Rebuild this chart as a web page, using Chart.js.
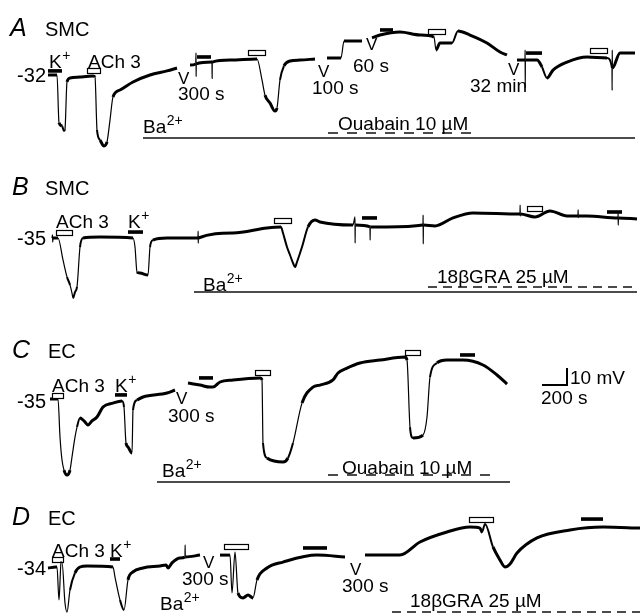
<!DOCTYPE html>
<html><head><meta charset="utf-8">
<script src="https://cdn.jsdelivr.net/npm/chart.js@4.4.0/dist/chart.umd.min.js"></script>
<style>html,body{margin:0;padding:0;background:#fff;}canvas{display:block;}</style>
</head><body>
<canvas id="c" width="640" height="614"></canvas>
<script>
// ---------- DATA (time in s, membrane potential in mV) ----------
// Panel A (SMC, ouabain)
const timeA = [384,456,472,496,512,520,536,560,640,744,760,776,800,832,856,880,904,960,1064,1200,1336,1416,1460,
  1520,1566,1568,1569,1570,1696,1697,1698,1840,2056,2096,2120,2160,2200,2216,2240,2272,2320,2400,2520,2570,
  2616,2728,2752,2896,2940,
  2976,3040,3200,3360,3472,3488,3520,3616,3664,3760,3896,4000,4056,4100,
  4136,4200,4201,4202,4203,4296,4336,4376,4424,4536,4696,4856,4896,4897,4898,4899,4960,5080];
const mvA = [-32,-32,-60,-62,-65,-63.8,-36.1,-33.8,-33.2,-32.6,-33.2,-64.3,-70.2,-73.7,-71.4,-58.5,-44.9,-40.8,-36.1,-32,-29.6,-27.9,null,
  -26.1,-25.5,-19,-33,-25.5,-24.4,-34,-24.4,-23.2,-22.6,-34.9,-43.8,-48.5,-53.2,-51.4,-34.9,-26.7,-23.8,-23.2,-22.6,null,
  -22,-22,-12,-12,null,
  -10.2,-8.5,-6.7,-8.5,-9.7,-17.3,-13.2,-13.2,-6.1,-8.5,-13.2,-18.5,-20.2,null,
  -23.2,-23.2,-17.3,-39.6,-23.2,-23.2,-27.3,-33.8,-29.1,-24.4,-21.4,-22,-27.9,-41,-17.3,-27.9,-19.1,-19.1];
// Panel B (SMC, 18bGRA)
const timeB = [416,420,422,424,464,504,536,560,576,584,600,616,640,664,800,1064,1080,1096,1120,1184,1200,1224,1336,1584,1585,
  1586,1587,1864,2136,2248,2264,2296,2320,2344,2360,2376,2416,2464,2520,2560,2824,2840,2841,2842,2960,
  2961,2962,3096,3384,3385,3386,3387,3480,3624,3784,4160,4161,4162,4163,4280,4400,4536,4624,4625,4626,
  4627,4696,4944,4945,4946,4947,5096];
const mvB = [-35,-33.2,-37.4,-35,-35,-47.9,-57.9,-62.6,-67.4,-70.3,-66.8,-63.8,-40.3,-35,-34.4,-35,-40.3,-55,-55.6,-56.8,-40.3,-36.2,-35,-35,-31,
  -38,-35,-32.1,-29.1,-28.5,-32.1,-40.3,-45,-49.7,-52.1,-49.1,-40.3,-28.5,-24.4,-25.6,-27.4,-22.6,-38,-27.4,-28.5,
  -36.2,-28.5,-28.5,-27.4,-21.5,-38.5,-27.4,-27.9,-23.2,-20.3,-20.9,-15.6,-22,-20.9,-22.6,-19.1,-22,-22,-18.5,-23,
  -22,-22,-23.2,-20.3,-27.4,-23.2,-23.8];
// Panel C (EC, ouabain)
const timeC = [400,464,480,496,512,536,560,576,600,616,640,672,704,736,776,824,904,976,992,1008,1024,1056,1064,1096,1144,1336,1400,1450,
  1504,1600,1680,1704,1760,1864,2080,2096,2104,2136,2264,2304,2344,2416,2504,2560,2664,2704,2776,2880,
  3040,3240,3256,3280,3304,3384,3416,3440,3496,3576,3704,3864,3976,4056];
const mvC = [-35,-35,-57.4,-70.9,-76.8,-79.7,-76.8,-69.1,-57.4,-51.5,-46.2,-47.9,-50.3,-47.9,-45.6,-39.7,-37.4,-36.2,-39.7,-60.9,-63.2,-66.8,-41.5,-35.6,-33.8,-31.5,-29.7,null,
  -25.6,-26.8,-28,-28,-25,-23.8,-22.6,-23.8,-60.9,-69.7,-72.1,-69.7,-60.9,-37.4,-28,-26.8,-23.8,-19.7,-16.8,-13.8,
  -12.1,-10.3,-12.1,-51.5,-57.9,-56.2,-45.6,-22.1,-13.8,-12.1,-12.1,-15,-20.9,-26.2];
// Panel D (EC, 18bGRA)
const timeD = [384,448,456,472,488,496,520,536,560,600,640,696,904,920,960,992,1024,1064,1144,1280,1328,1344,1376,1440,1480,1481,1482,1600,1680,
  1760,1840,1856,1880,1904,1944,1984,2024,2056,2136,2264,2536,2760,2840,
  2920,3200,3360,3576,3760,3840,3856,3880,3944,4000,4040,4080,4136,4296,4560,4824,5120];
const mvD = [-34.6,-34,-34,-53.4,-31.6,-31.1,-55.2,-60.5,-47.5,-37.5,-34,-33.4,-34,-39.9,-53.4,-59.3,-41.6,-36.9,-34.6,-33.4,-32.8,-34.6,-31.6,-28.7,-28.1,-21,-28.1,-27,null,
  -27,-27,-49.3,-25.2,-49.3,-52.2,-50.5,-52.2,-41.6,-34.6,-31.1,-27,-28.1,null,
  -27,-27,-19.3,-13.4,-10.5,-11.1,-13.4,-8.7,-22.2,-29.9,-34,-32.2,-25.8,-16.9,-12.2,-10.5,-11.1];

// Drug application periods [start s, end s]
const openA = [[696,800],[1984,2120],[3424,3560],[4720,4856]];      // ACh (open bars)
const filledA = [[384,496],[1576,1688],[3040,3144],[4208,4336]];    // K+ (filled bars)
const openB = [[448,576],[2192,2328],[4216,4336]];
const filledB = [[1024,1144],[2896,3016],[4856,4976]];
const openC = [[416,504],[2040,2160],[3240,3360]];
const filledC = [[920,1016],[1592,1704],[3680,3800]];
const openD = [[416,504],[1792,1984],[3752,3944]];
const filledD = [[880,960],[2424,2616],[4648,4824]];
const bariumA = [1144,5080], bariumB = [1552,5096], bariumC = [1256,4080];
const drugA = [2624,3800], drugB = [3424,5096], drugC = [2624,3936], drugD = [3136,5120];
const restingLabels = ['-32','-35','-35','-34'];
const scaleBar = {seconds:200, mV:10};

// ---------- LAYOUT (placement only) ----------
const PX_PER_MV = 1.7, H = 614, T_MAX = 5120;
const panels = [
  {id:'yA', base:-32, row:75,  t:timeA, v:mvA, open:openA, filled:filledA,
   openLv:[-29.6,-18.5,-6.7,-17.3], filledLv:[-29.6,-21.4,-5.5,-19.1],
   ba:bariumA, baLv:-69.1, drug:drugA, drugLv:-66.1, dash:[10,9],
   labels:[['A',80,-9.1,'big'],['SMC',360,-9.1,'title'],[restingLabels[0],368,-32.6,'rest'],
     ['K^+',392,-27.9],['ACh 3',704,-27.9],['V',1424,-37.3,'v'],['300 s',1424,-46.7],
     ['V',2544,-33.2,'v'],['100 s',2496,-43.2],['V',2928,-17.3,'v'],['60 s',2824,-30.2],
     ['V',4064,-32,'v'],['32 min',3760,-42],['Ba^2+',1144,-66.1],['Ouabain 10 \u00b5M',2704,-64.4]]},
  {id:'yB', base:-35, row:238, t:timeB, v:mvB, open:openB, filled:filledB,
   openLv:[-31.5,-25,-17.4], filledLv:[-31.5,-23.2,-19.7],
   ba:bariumB, baLv:-66.8, drug:drugB, drugLv:-63.8, dash:[9,6],
   labels:[['B',96,-9.7,'big'],['SMC',360,-9.7,'title'],[restingLabels[1],368,-35.6,'rest'],
     ['ACh 3',448,-29.1],['K^+',1024,-29.1],['Ba^2+',1624,-66.2],['18\u03b2GRA 25 \u00b5M',3496,-61.5]]},
  {id:'yC', base:-35, row:399, t:timeC, v:mvC, open:openC, filled:filledC,
   openLv:[-33.2,-19.7,-7.4], filledLv:[-32.6,-22.6,-9.1],
   ba:bariumC, baLv:-83.8, drug:drugC, drugLv:-79.7, dash:[10,9],
   labels:[['C',96,-10.9,'big'],['EC',384,-10.9,'title'],[restingLabels[2],368,-36.8,'rest'],
     ['ACh 3',416,-30.9],['K^+',920,-30.9],['V',1408,-37.9,'v'],['300 s',1344,-48.5],
     ['Ba^2+',1296,-80.9],['Ouabain 10 \u00b5M',2736,-79.1],
     [scaleBar.mV+' mV',4560,-26.2],[scaleBar.seconds+' s',4328,-37.9]],
   scale:{t:4336, v:-26.8}},
  {id:'yD', base:-34, row:567, t:timeD, v:mvD, open:openD, filled:filledD,
   openLv:[-29.3,-22.2,-5.8], filledLv:[-29.3,-22.8,-5.8],
   ba:null, drug:drugD, drugLv:-60.5, dash:[9,6],
   labels:[['D',96,-9.3,'big'],['EC',384,-9.3,'title'],[restingLabels[3],368,-35.2,'rest'],
     ['ACh 3',416,-28.1],['K^+',880,-28.1],['V',1624,-34.6,'v'],['300 s',1456,-44.6],
     ['Ba^2+',1280,-59.3],['V',2800,-38.7,'v'],['300 s',2736,-48.7],['18\u03b2GRA 25 \u00b5M',3280,-57.5]]}
];

const FONT = '"Liberation Sans", Arial, Helvetica, sans-serif';
const datasets = [];
const scales = { x: {type:'linear', min:0, max:T_MAX, display:false} };
panels.forEach(p => {
  const max = p.base + p.row / PX_PER_MV;
  scales[p.id] = {type:'linear', min: max - H / PX_PER_MV, max: max, display:false};
  datasets.push({
    data: p.t.map((t,i)=>({x:t, y:p.v[i]})), yAxisID:p.id, borderColor:'#000', borderWidth:3,
    pointRadius:0, spanGaps:false, borderJoinStyle:'round', borderCapStyle:'butt',
    cubicInterpolationMode:'monotone',
    segment:{ borderWidth: ctx => {
      const dx = Math.abs(ctx.p1.x-ctx.p0.x), dy = Math.abs(ctx.p1.y-ctx.p0.y);
      return dy > 4*dx ? 1.2 : (dy > 2*dx ? 2 : 3); } }
  });
  if (p.ba) datasets.push({data:[{x:p.ba[0],y:p.baLv},{x:p.ba[1],y:p.baLv}], yAxisID:p.id,
    borderColor:'#111', borderWidth:1.4, pointRadius:0});
  datasets.push({data:[{x:p.drug[0],y:p.drugLv},{x:p.drug[1],y:p.drugLv}], yAxisID:p.id,
    borderColor:'#111', borderWidth:1.4, borderDash:p.dash, pointRadius:0});
  if (p.scale) {
    datasets.push({data:[{x:p.scale.t,y:p.scale.v},{x:p.scale.t+scaleBar.seconds,y:p.scale.v},
      {x:p.scale.t+scaleBar.seconds,y:p.scale.v+scaleBar.mV}], yAxisID:p.id,
      borderColor:'#000', borderWidth:2, pointRadius:0, borderJoinStyle:'miter'});
  }
});

function drawLabel(ctx, str, x, y, kind) {
  let size = 19, italic = false, align = 'left', base = 'alphabetic';
  if (kind === 'big') { size = 25; italic = true; }
  if (kind === 'title') size = 20;
  if (kind === 'rest') { size = 20; align = 'right'; base = 'middle'; }
  if (kind === 'v') size = 17;
  const parts = str.split('^');
  ctx.fillStyle = '#000';
  ctx.textBaseline = base;
  ctx.font = (italic ? 'italic ' : '') + size + 'px ' + FONT;
  const w = ctx.measureText(parts[0]).width;
  let sw = 0; const ss = Math.round(size*0.72);
  if (parts[1]) { ctx.font = ss + 'px ' + FONT; sw = ctx.measureText(parts[1]).width; }
  const x0 = align === 'right' ? x - w - sw : x;
  ctx.font = (italic ? 'italic ' : '') + size + 'px ' + FONT;
  ctx.textAlign = 'left';
  ctx.fillText(parts[0], x0, y);
  if (parts[1]) { ctx.font = ss + 'px ' + FONT; ctx.fillText(parts[1], x0 + w + 0.5, y - size*0.42); }
}

const annotations = {
  id:'annotations',
  afterDatasetsDraw(chart) {
    const ctx = chart.ctx, xs = chart.scales.x;
    ctx.save();
    panels.forEach(p => {
      const ys = chart.scales[p.id];
      p.filled.forEach((b,i) => {
        const x0 = xs.getPixelForValue(b[0]), x1 = xs.getPixelForValue(b[1]);
        const y = ys.getPixelForValue(p.filledLv[i]);
        ctx.fillStyle = '#000'; ctx.fillRect(x0, y-1.8, x1-x0, 3.6);
      });
      p.open.forEach((b,i) => {
        const x0 = xs.getPixelForValue(b[0]), x1 = xs.getPixelForValue(b[1]);
        const y = ys.getPixelForValue(p.openLv[i]);
        ctx.fillStyle = '#fff'; ctx.fillRect(x0, y-2.5, x1-x0, 5);
        ctx.strokeStyle = '#000'; ctx.lineWidth = 1.2;
        ctx.strokeRect(Math.round(x0)+0.5, Math.round(y-2.5)+0.5, Math.round(x1-x0), 5);
      });
      p.labels.forEach(l => drawLabel(ctx, l[0], xs.getPixelForValue(l[1]), ys.getPixelForValue(l[2]), l[3]));
    });
    ctx.restore();
  }
};

new Chart(document.getElementById('c'), {
  type:'line',
  data:{datasets},
  options:{
    responsive:false, animation:false, parsing:false, normalized:true,
    layout:{padding:0},
    plugins:{legend:{display:false}, tooltip:{enabled:false}},
    scales
  },
  plugins:[annotations]
});
</script>
</body></html>
